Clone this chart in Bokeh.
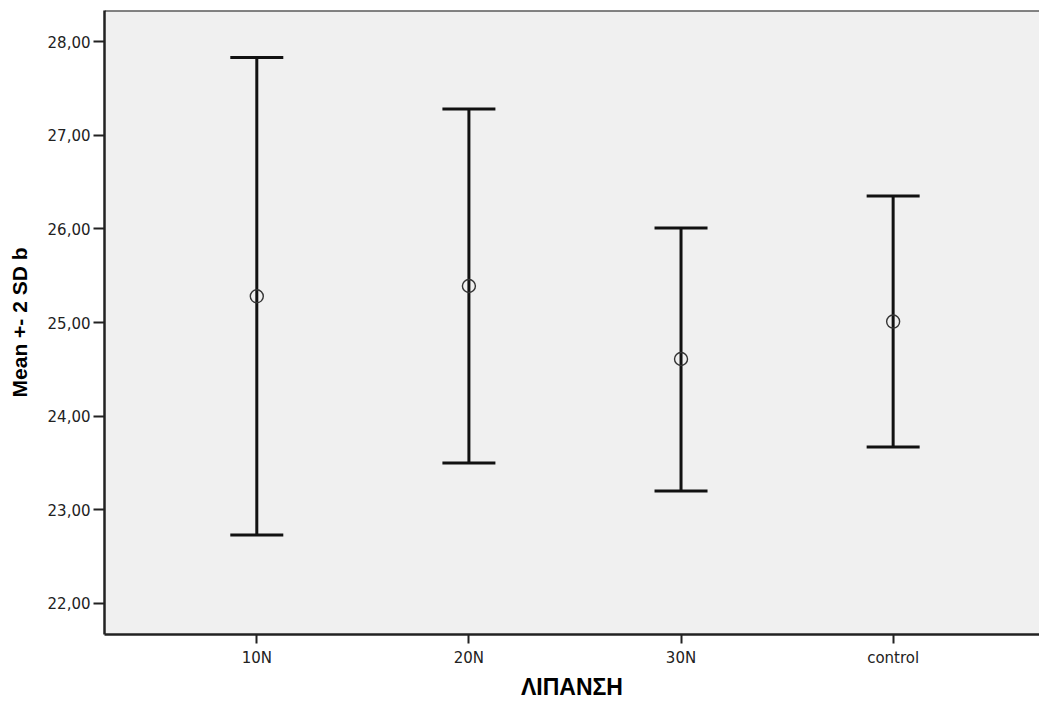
from bokeh.plotting import figure
from bokeh.models import (ColumnDataSource, Whisker, TeeHead, Range1d, FixedTicker,
                          CustomJSTickFormatter, Span)
from bokeh.embed import file_html
from bokeh.resources import INLINE

categories = ["10N", "20N", "30N", "control"]
means = [25.28, 25.39, 24.61, 25.01]
lower = [22.73, 23.50, 23.20, 23.67]
upper = [27.83, 27.28, 26.01, 26.35]
y_ticks = [22, 23, 24, 25, 26, 27, 28]

xpos = list(range(1, len(categories) + 1))
src = ColumnDataSource(dict(x=xpos, mean=means, lower=lower, upper=upper))

p = figure(width=1039, height=702, output_backend="svg", toolbar_location=None,
           x_range=Range1d(0.282, 4.69), y_range=Range1d(21.668, 28.332),
           min_border_left=104, min_border_top=10, min_border_right=0, min_border_bottom=61)
p.background_fill_color = "#f0f0f0"
p.border_fill_color = "white"
p.outline_line_color = None
p.xgrid.visible = False
p.ygrid.visible = False

# top frame line only (no right border in the original)
p.add_layout(Span(location=p.y_range.end, dimension="width",
                  line_color="#111111", line_width=2))

w = Whisker(base="x", upper="upper", lower="lower", source=src,
            line_color="#111111", line_width=3,
            upper_head=TeeHead(size=53, line_color="#111111", line_width=3),
            lower_head=TeeHead(size=53, line_color="#111111", line_width=3))
p.add_layout(w)
p.scatter("x", "mean", source=src, size=13, marker="circle", fill_color=None,
          line_color="#333333", line_width=1.4)

xa = p.xaxis[0]
ya = p.yaxis[0]
for ax in (xa, ya):
    ax.axis_line_color = "#222222"
    ax.axis_line_width = 2.5
    ax.major_tick_line_color = "#222222"
    ax.major_tick_line_width = 2
    ax.major_tick_in = 0
    ax.minor_tick_line_color = None
    ax.major_label_text_font = "DejaVu Sans"
    ax.major_label_text_font_size = "15px"
    ax.major_label_text_color = "#222222"
    ax.axis_label_text_font = "Liberation Sans"
    ax.axis_label_text_font_style = "bold"
    ax.axis_label_text_color = "#000000"

xa.ticker = FixedTicker(ticks=xpos)
xa.major_label_overrides = {x: c for x, c in zip(xpos, categories)}
xa.major_tick_out = 9
xa.major_label_standoff = 5
xa.axis_label = "ΛΙΠΑΝΣΗ"
xa.axis_label_text_font_size = "23px"
xa.axis_label_standoff = 4

ya.ticker = FixedTicker(ticks=y_ticks)
ya.formatter = CustomJSTickFormatter(code="return tick.toFixed(2).replace('.', ',');")
ya.major_tick_out = 11
ya.major_label_standoff = 3
ya.axis_label = "Mean +- 2 SD b"
ya.axis_label_text_font_size = "21px"
ya.axis_label_standoff = 14

open("out.html", "w").write(file_html(p, INLINE))
